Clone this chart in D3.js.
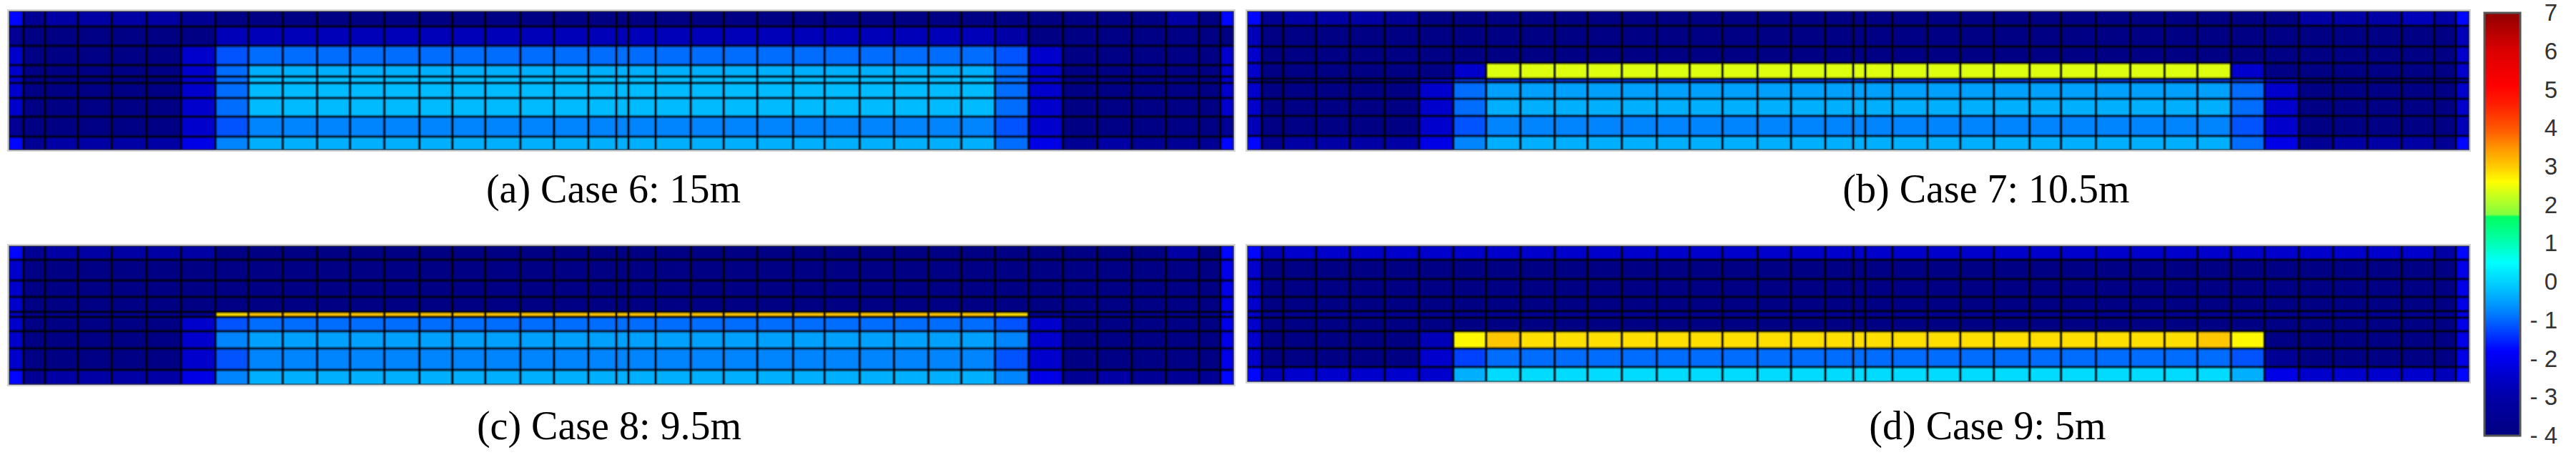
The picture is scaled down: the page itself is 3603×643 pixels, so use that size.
<!DOCTYPE html>
<meta charset="utf-8">
<style>
body { margin: 0; background: #fff; }
.caption { font-family: "Liberation Serif", "DejaVu Serif", serif; font-size: 56px; fill: #000; }
.cbar text { font-family: "Liberation Sans", Arial, sans-serif; font-size: 33px; fill: #333; }
</style>
<svg width="3603" height="643"></svg>
<script src="https://cdn.jsdelivr.net/npm/d3@7/dist/d3.min.js"></script>
<script>

// mesh node positions (m) - same column mesh for all four cases
var xNodes = [0, 1.0, 2.5, 4.8, 7.15, 9.6, 12.0, 14.4, 16.7, 19.1,
  21.5, 23.8, 26.2, 28.65, 30.95, 33.25, 35.7, 38.05, 40.45, 42.4,
  43.25, 45.15, 47.6, 49.9, 52.25, 54.75, 56.95, 59.4, 61.8, 64.2,
  66.5, 68.85, 71.2, 73.6, 76.0, 78.4, 80.8, 83.1, 84.6, 85.5];

// row nodes (depth, m) for each case
var yNodes6 = [0, 1.05, 2.4, 3.75, 4.55, 5.0, 6.05, 7.35, 8.75, 9.65];
var yNodes7 = [0, 1.0, 2.45, 3.6, 4.7, 4.95, 6.1, 7.3, 8.7, 9.65];
var yNodes8 = [0, 0.95, 2.4, 3.55, 4.6, 4.95, 5.95, 7.15, 8.65, 9.65];
var yNodes9 = [0, 0.95, 2.3, 3.55, 4.55, 5.0, 5.95, 7.15, 8.45, 9.45];

// cell values, one letter per element, looked up in levelCodes/levelValues
var levelCodes  = ["A", "B", "C", "D", "E", "F", "G", "H", "I", "J", "K", "L", "M", "N", "O", "Q", "X", "Y", "Z"];
var levelValues = [-3.9, -3.5, -3.1, -2.75, -2.45, -2.1, -1.75, -1.3, -1.15, -0.95, -0.75, -0.5, -0.35, -0.25, 0.1, 3.05, 2.65, 2.4, 2.85];

var case6 = [
  "GBCCCCBA AAAAAAAAAAAAAAAAAAAAAAA AA AAAC AG",
  "BAAAAAAD DDDDDDDDDDDDDDDDDDDDDDD CA AAAA AA",
  "EAAAAAEI JJJJJJJJJJJJJJJJJJJJJJJ IE AAAA AE",
  "EAAAAAEJ MMMMMMMMMMMMMMMMMMMMMMM JE AAAA AE",
  "EAAAAAEJ NNNNNNNNNNNNNNNNNNNNNNN JE AAAA AE",
  "EAAAAAEJ NNNNNNNNNNNNNNNNNNNNNNN JE AAAA AE",
  "EAAAAAEJ NNNNNNNNNNNNNNNNNNNNNNN JE AAAA AE",
  "BAAAAAEI KKKKKKKKKKKKKKKKKKKKKKK IE AAAA AB",
  "GBCCCCFK MMMMMMMMMMMMMMMMMMMMMMM JF BCBB BG"
];
var case7 = [
  "GBCCCBAA AAAAAAAAAAAAAAAAAAAAAAA AA CCCD CG",
  "DAAAAAAA AAAAAAAAAAAAAAAAAAAAAAA AA AAAA AD",
  "EAAAAAAA AAAAAAAAAAAAAAAAAAAAAAA AA AAAA AE",
  "EAAAAAAE YYYYYYYYYYYYYYYYYYYYYYY EA AAAA AE",
  "EBBBBBFH HHHHHHHHHHHHHHHHHHHHHHH HF BBBB BE",
  "EAAAAAEJ LLLLLLLLLLLLLLLLLLLLLLL JE AAAA AE",
  "EAAAAAEJ MMMMMMMMMMMMMMMMMMMMMMM JE AAAA AE",
  "DAAAAAEI KKKKKKKKKKKKKKKKKKKKKKK IE AAAA AD",
  "GBCCCCFK MMMMMMMMMMMMMMMMMMMMMMM JF BCCC BG"
];
var case8 = [
  "GBCCCCCA AAAAAAAAAAAAAAAAAAAAAAA AA AAAC AG",
  "EAAAAAAA AAAAAAAAAAAAAAAAAAAAAAA AA AAAA AF",
  "EAAAAAAA AAAAAAAAAAAAAAAAAAAAAAA AA AAAA AF",
  "EAAAAAAA AAAAAAAAAAAAAAAAAAAAAAA AA AAAA AF",
  "EBBBBBBZ QQQQQQQQQQQQQQQQQQQQQQQ ZB BBBB BF",
  "EAAAAAEI JJJJJJJJJJJJJJJJJJJJJJJ IE AAAA AF",
  "EAAAAAEK LLLLLLLLLLLLLLLLLLLLLLL KE AAAA AF",
  "EAAAAAEI KKKKKKKKKKKKKKKKKKKKKKK IE AAAA AF",
  "GBCCCCFK MMMMMMMMMMMMMMMMMMMMMMM KF BCBB BG"
];
var case9 = [
  "GDEEEEEE EEEEEEEEEEEEEEEEEEEEEEE EE EEEE CG",
  "EAAAAAAA AAAAAAAAAAAAAAAAAAAAAAA AA AAAA AF",
  "EAAAAAAA AAAAAAAAAAAAAAAAAAAAAAA AA AAAA AF",
  "EAAAAAAA AAAAAAAAAAAAAAAAAAAAAAA AA AAAA AF",
  "EBBBBBBB BBBBBBBBBBBBBBBBBBBBBBB BB BBBB BF",
  "EAAAAAAA AAAAAAAAAAAAAAAAAAAAAAA AA AAAA AF",
  "EAAAAADX QZZZZZZZZZZZZZZZZZZZZZQ XA AAAA AF",
  "EAAAAAEH JJJJJJJJJJJJJJJJJJJJJJJ IB AAAA AF",
  "GDEEEEEM OOOOOOOOOOOOOOOOOOOOOOO MF EEEE DG"
];

var captions = ["(a) Case 6: 15m", "(b) Case 7: 10.5m", "(c) Case 8: 9.5m", "(d) Case 9: 5m"];

// colour bar
var cbTicks = [-4, -3, -2, -1, 0, 1, 2, 3, 4, 5, 6, 7];
var stopValues = [-4, -3, -2.5, -1.8, -1.3, -0.8, -0.2, 0.5, 1.2, 1.7, 1.75, 2.2, 2.6, 3.0, 3.4, 3.9, 4.6, 5.1, 6.0, 7.0];
var stopColors = ["#000080", "#0000a8", "#0000c8", "#0000ff", "#0040ff", "#0080ff", "#00c0ff", "#00ffff",
  "#00ff99", "#00ff60", "#80ff40", "#c0ff20", "#ffff00", "#ffcc00", "#ffa000", "#ff6000",
  "#ff2000", "#ff0000", "#dd0000", "#900000"];

var svg = d3.select("svg");

var color = d3.scaleLinear().domain(stopValues).range(stopColors).clamp(true);
var valueOf = d3.scaleOrdinal().domain(levelCodes).range(levelValues);

var panels = [
  { rows: case6, yn: yNodes6, x0: 13,   x1: 1725, y0: 16,  cx: 858,  ty: 283 },
  { rows: case7, yn: yNodes7, x0: 1745, x1: 3453, y0: 16,  cx: 2778, ty: 283 },
  { rows: case8, yn: yNodes8, x0: 13,   x1: 1725, y0: 344, cx: 852,  ty: 614 },
  { rows: case9, yn: yNodes9, x0: 1745, x1: 3453, y0: 344, cx: 2780, ty: 614 }
];
var panelH = 193, depth = 9.65;

panels.forEach(function(p, i) {
  var x = d3.scaleLinear().domain([0, xNodes[xNodes.length - 1]]).range([p.x0, p.x1]);
  var y = d3.scaleLinear().domain([0, depth]).range([p.y0, p.y0 + panelH]);

  var cells = [];
  p.rows.forEach(function(s, r) {
    s.replace(/ /g, "").split("").forEach(function(code, c) {
      cells.push({ r: r, c: c, v: valueOf(code) });
    });
  });

  var g = svg.append("g");

  // outer light frame
  g.append("rect")
      .attr("x", x(0)).attr("y", y(0))
      .attr("width", x(xNodes[xNodes.length - 1]) - x(0))
      .attr("height", y(p.yn[p.yn.length - 1]) - y(0))
      .attr("fill", "none")
      .attr("stroke", "#d4d4d4")
      .attr("stroke-width", 6);

  g.selectAll("rect.cell")
      .data(cells)
    .enter().append("rect")
      .attr("class", "cell")
      .attr("x", function(d) { return x(xNodes[d.c]); })
      .attr("y", function(d) { return y(p.yn[d.r]); })
      .attr("width", function(d) { return x(xNodes[d.c + 1]) - x(xNodes[d.c]) + 0.5; })
      .attr("height", function(d) { return y(p.yn[d.r + 1]) - y(p.yn[d.r]) + 0.5; })
      .attr("fill", function(d) { return color(d.v); });

  var yTop = y(0), yBot = y(p.yn[p.yn.length - 1]);
  var inX = xNodes.slice(1, -1), inY = p.yn.slice(1, -1);

  // mesh lines: soft halo + dark core
  g.selectAll("line.hh").data(inY).enter().append("line")
      .attr("x1", x(0)).attr("x2", x.range()[1])
      .attr("y1", y).attr("y2", y)
      .attr("stroke", "#000").attr("stroke-opacity", 0.35).attr("stroke-width", 5);
  g.selectAll("line.hc").data(inY).enter().append("line")
      .attr("x1", x(0)).attr("x2", x.range()[1])
      .attr("y1", y).attr("y2", y)
      .attr("stroke", "#000").attr("stroke-opacity", 0.55).attr("stroke-width", 2);
  g.selectAll("line.vh").data(inX).enter().append("line")
      .attr("x1", x).attr("x2", x)
      .attr("y1", yTop).attr("y2", yBot)
      .attr("stroke", "#000").attr("stroke-opacity", 0.3).attr("stroke-width", 5);
  g.selectAll("line.vc").data(inX).enter().append("line")
      .attr("x1", x).attr("x2", x)
      .attr("y1", yTop).attr("y2", yBot)
      .attr("stroke", "#000").attr("stroke-opacity", 0.8).attr("stroke-width", 2);

  g.append("rect")
      .attr("x", x(0)).attr("y", yTop)
      .attr("width", x.range()[1] - x(0))
      .attr("height", yBot - yTop)
      .attr("fill", "none")
      .attr("stroke", "#333")
      .attr("stroke-opacity", 0.7)
      .attr("stroke-width", 1.5);

  svg.append("text")
      .attr("class", "caption")
      .attr("x", p.cx)
      .attr("y", p.ty)
      .attr("text-anchor", "middle")
      .text(captions[i]);
});

// colour bar
var cbX = 3475, cbW = 50, cbTop = 18, cbBot = 609;
var cb = d3.scaleLinear().domain([-4, 7]).range([cbBot, cbTop]);

var grad = svg.append("defs").append("linearGradient")
    .attr("id", "jet")
    .attr("x1", 0).attr("y1", 1).attr("x2", 0).attr("y2", 0);
grad.selectAll("stop").data(stopValues).enter().append("stop")
    .attr("offset", function(d) { return (d + 4) / 11; })
    .attr("stop-color", function(d, i) { return stopColors[i]; });

svg.append("rect")
    .attr("x", cbX).attr("y", cbTop)
    .attr("width", cbW).attr("height", cbBot - cbTop)
    .attr("fill", "url(#jet)")
    .attr("stroke", "#555")
    .attr("stroke-width", 3);

var axis = svg.append("g")
    .attr("class", "cbar")
    .attr("transform", "translate(" + (cbX + cbW) + ",0)")
    .call(d3.axisRight(cb).tickValues(cbTicks).tickSize(0)
      .tickFormat(function(d) { return d < 0 ? "- " + Math.abs(d) : d; }));
axis.select(".domain").remove();
axis.selectAll("text")
    .attr("text-anchor", "end")
    .attr("x", 52)
    .attr("font-family", null)
    .attr("font-size", null);

</script>
